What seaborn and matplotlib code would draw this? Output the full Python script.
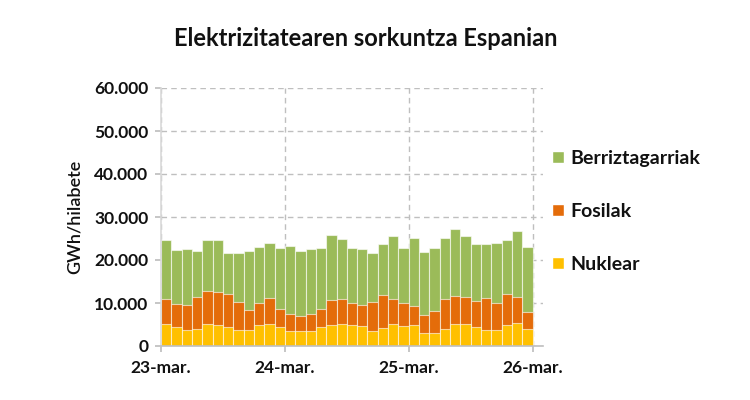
import numpy as np
import pandas as pd
import matplotlib
matplotlib.use("Agg")
import matplotlib.pyplot as plt
from matplotlib.patches import Patch
from matplotlib.ticker import FuncFormatter
import seaborn as sns

# Datuak (GWh/hilabete), 2023-03 .. 2026-02
hilabeteak = [d.strftime("%Y-%m") for d in pd.date_range("2023-03-01", periods=36, freq="MS")]
nuklear = [5040, 4500, 3720, 3950, 5040, 4880, 4500, 3720, 3720, 4880, 5120, 4420,
           3490, 3490, 3490, 4340, 4960, 5040, 4960, 4650, 3570, 4260, 5190, 4650,
           4810, 2950, 3020, 4030, 5040, 5040, 4500, 3720, 3640, 4810, 5270, 4030]
fosilak = [5890, 5350, 5890, 7450, 7670, 7680, 7520, 6510, 4650, 5200, 6040, 4260,
           4030, 3560, 4030, 4260, 5740, 5890, 5040, 4960, 6740, 7680, 5740, 5430,
           4570, 4340, 5200, 6900, 6510, 6430, 5890, 7520, 6280, 7360, 6200, 3950]
berriztagarriak = [13800, 12480, 12870, 10770, 12020, 12090, 9690, 11320, 13720, 13020, 12870, 14110,
                   15740, 15040, 15040, 14110, 15040, 13880, 12710, 12950, 11240, 11780, 14650, 12790,
                   15660, 14570, 14490, 14260, 15740, 14030, 13250, 12400, 14030, 12400, 15200, 14970]
tick_labels = ["23-mar.", "24-mar.", "25-mar.", "26-mar."]

c_ber = "#9BBB59"
c_fos = "#E46C0A"
c_nuk = "#FFC000"

df = pd.DataFrame({"hilabetea": hilabeteak, "Nuklear": nuklear,
                   "Fosilak": fosilak, "Berriztagarriak": berriztagarriak})
df["goi_fos"] = df["Nuklear"] + df["Fosilak"]
df["guztira"] = df["goi_fos"] + df["Berriztagarriak"]

sns.set_theme(style="white")
plt.rcParams["font.family"] = ["Lato", "DejaVu Sans"]

fig = plt.figure(figsize=(7.5, 4), dpi=100)
ax = fig.add_axes([0.2147, 0.135, 0.5093, 0.645])

# pilatutako barrak: gainjarrita
for col, c in [("guztira", c_ber), ("goi_fos", c_fos), ("Nuklear", c_nuk)]:
    sns.barplot(data=df, x="hilabetea", y=col, color=c, width=1.0, ax=ax,
                edgecolor=(1, 1, 1, 0.6), linewidth=0.8, saturation=1)

ax.set_xlim(-0.5, 36.5)
ax.set_ylim(0, 60000)
ax.set_yticks(np.arange(0, 60001, 10000))
ax.yaxis.set_major_formatter(FuncFormatter(lambda v, p: f"{int(v):,}".replace(",", ".")))
ax.set_xticks([-0.5, 11.5, 23.5, 35.5])
ax.set_xticklabels(tick_labels)
ax.set_xlabel("")
ax.set_ylabel("GWh/hilabete", fontsize=13, color="#111111", labelpad=8, fontweight="semibold")

ax.grid(True, axis="both", linestyle=(0, (4, 3)), color="#bfbfbf", linewidth=1)
ax.set_axisbelow(True)
for s in ["top", "right"]:
    ax.spines[s].set_visible(False)
ax.spines["left"].set_color("#d9d9d9")
ax.spines["left"].set_linewidth(1.2)
ax.spines["bottom"].set_color("#bfbfbf")
ax.spines["bottom"].set_linewidth(1.2)
ax.tick_params(axis="y", left=True, length=4, color="#bfbfbf", labelsize=12.5, pad=5)
ax.tick_params(axis="x", bottom=True, length=4, color="#bfbfbf", labelsize=12.5, pad=6)
for t in ax.get_xticklabels() + ax.get_yticklabels():
    t.set_fontweight("bold")
    t.set_color("#111111")

fig.text(0.488, 0.905, "Elektrizitatearen sorkuntza Espanian", ha="center", va="center",
         fontsize=17, fontweight="bold", color="#111111")

handles = [Patch(facecolor=c_ber, label="Berriztagarriak"),
           Patch(facecolor=c_fos, label="Fosilak"),
           Patch(facecolor=c_nuk, label="Nuklear")]
leg = fig.legend(handles=handles, loc="center left", bbox_to_anchor=(0.713, 0.472),
                 frameon=False, fontsize=14, handlelength=0.6, handleheight=0.6,
                 handletextpad=0.35, labelspacing=1.85)
for t in leg.get_texts():
    t.set_fontweight("bold")
    t.set_color("#111111")

fig.savefig("out.png", dpi=100)
